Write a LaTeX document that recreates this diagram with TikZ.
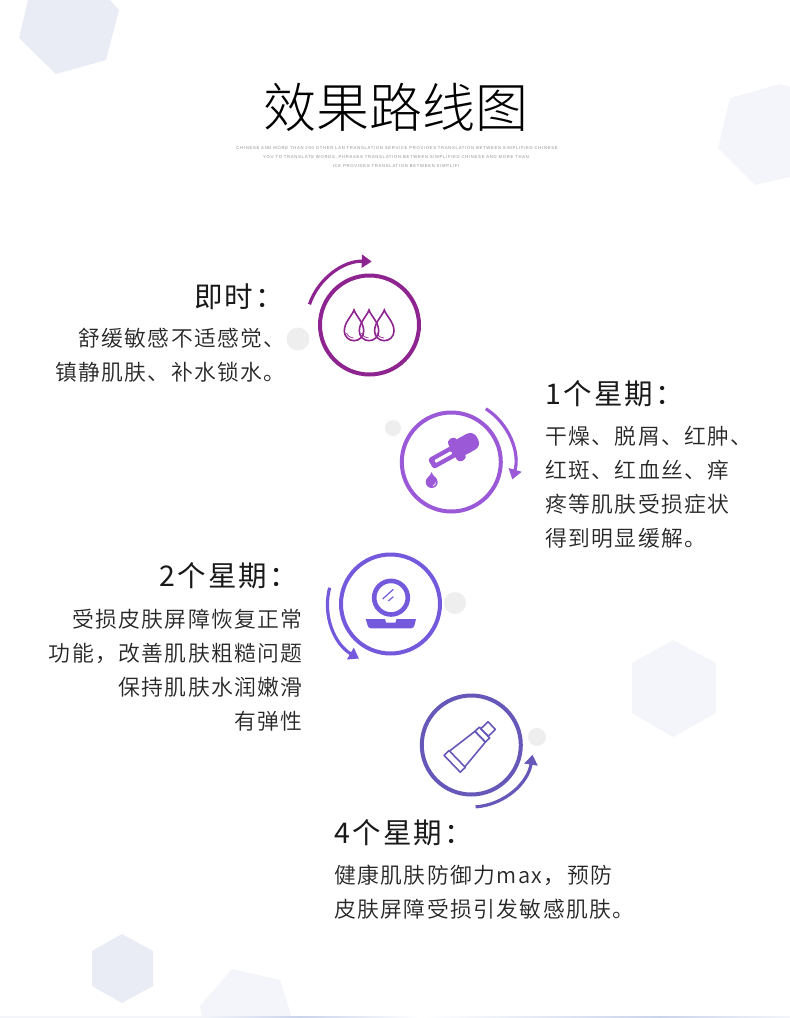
\documentclass[tikz,border=0pt]{standalone}
\usepackage{fontspec}
\usetikzlibrary{arrows.meta}
\newfontfamily\cjktitle{Noto Sans CJK SC Light}
\newfontfamily\cjkhead[LetterSpace=8]{Noto Sans CJK SC}
\newfontfamily\cjkbody[LetterSpace=6.5]{Noto Sans CJK SC DemiLight}
\newfontfamily\latintiny[LetterSpace=17]{Liberation Sans}
\definecolor{ringa}{HTML}{8E2490}
\definecolor{ringb}{HTML}{9B59D8}
\definecolor{ringc}{HTML}{7459DC}
\definecolor{ringd}{HTML}{6558B8}
\definecolor{hexdark}{HTML}{E9EBF5}
\definecolor{hexlight}{HTML}{F4F5FA}
\definecolor{dotgray}{HTML}{EEEEEE}
\definecolor{stripblue}{HTML}{C9D3EB}
\tikzset{
  ringnode/.style={circle, draw, line width=4pt, minimum size=99pt, inner sep=0pt},
  arcarrow/.style={line width=3.2pt, -{Triangle[length=10pt, width=13pt]}},
  graydot/.style={circle, fill=dotgray, inner sep=0pt},
  headtext/.style={inner sep=0pt, text=black!90, font=\fontsize{28.5}{30}\selectfont\cjkhead},
  bodytext/.style={inner sep=0pt, text=black!85, align=left, font=\fontsize{21.8}{34}\selectfont\cjkbody},
  bodyright/.style={bodytext, align=right},
  subtext/.style={inner sep=0pt, text=black!45, font=\fontsize{4.2}{5}\selectfont\latintiny},
  droplet/.pic={
    \draw[ringa, line width=1.6pt] (0,0) .. controls (2,6) and (9.7,12) .. (9.7,21)
      arc[start angle=0, end angle=-180, radius=9.7pt]
      .. controls (-9.7,12) and (-2,6) .. (0,0) -- cycle;
    \draw[ringa, line width=.7pt] (-7.5,23) .. controls (-6,26.5) and (-3,28) .. (-.5,28);
  }
}
\begin{document}
\begin{tikzpicture}[x=1pt, y=-1pt]
  \useasboundingbox (0,0) rectangle (790,1018);
  % background shapes
  \fill[hexdark] (28,0) -- (19,38) -- (56,74) -- (106,60) -- (119,10) -- (110,0) -- cycle;
  \fill[hexlight] (730,98) -- (780,84) -- (790,87) -- (790,177) -- (755,185) -- (718,148) -- cycle;
  \fill[hexlight] (673,640) -- (716,663) -- (716,713) -- (673,737) -- (632,713) -- (632,663) -- cycle;
  \fill[hexdark] (122,934) -- (153,951) -- (153,986) -- (122,1003) -- (92,986) -- (92,951) -- cycle;
  \fill[hexlight] (232,969) -- (280,980) -- (292,1018) -- (202,1018) -- (200,1006) -- cycle;
  % strip along the bottom edge
  \fill[hexlight] (0,1016) rectangle (200,1018);
  \shade[left color=hexlight, right color=stripblue] (200,1016) rectangle (300,1018);
  \shade[left color=stripblue, right color=white] (300,1016) rectangle (420,1018);
  \shade[left color=white, right color=stripblue] (420,1016) rectangle (660,1018);
  \shade[left color=stripblue, right color=hexlight] (660,1016) rectangle (790,1018);
  % title
  \node[inner sep=0pt, text=black, font=\fontsize{53}{58}\selectfont\cjktitle] (title) at (396,107) {效果路线图};
  \node[subtext] (suba) at (397,148) {CHINESE AND MORE THAN 200 OTHER LAN TRANSLATION SERVICE PROVIDES TRANSLATION BETWEEN SIMPLIFIED CHINESE};
  \node[subtext] (subb) at (396,157.5) {YOU TO TRANSLATE WORDS, PHRASES TRANSLATION BETWEEN SIMPLIFIED CHINESE AND MORE THAN};
  \node[subtext] (subc) at (396,166.5) {ICE PROVIDES TRANSLATION BETWEEN SIMPLIFI};
  % dots
  \node[graydot, minimum size=23pt] (dota) at (298,339) {};
  \node[graydot, minimum size=16pt] (dotb) at (393,428) {};
  \node[graydot, minimum size=22pt] (dotc) at (455,603) {};
  \node[graydot, minimum size=18pt] (dotd) at (537,737) {};
  % rings
  \node[ringnode, ringa] (rnga) at (369.5,325) {};
  \node[ringnode, ringb] (rngb) at (451.3,462) {};
  \node[ringnode, ringc] (rngc) at (390.5,604) {};
  \node[ringnode, ringd] (rngd) at (471.3,745) {};
  % arrows round the rings
  \draw[arcarrow, ringa] (rnga.center) ++(161:63.5pt) arc[start angle=161, end angle=88, radius=63.5pt];
  \draw[arcarrow, ringb] (rngb.center) ++(57:63.5pt) arc[start angle=57, end angle=-16, radius=63.5pt];
  \draw[arcarrow, ringc] (rngc.center) ++(165:63pt) arc[start angle=165, end angle=240, radius=63pt];
  \draw[arcarrow, ringd] (rngd.center) ++(-86:62pt) arc[start angle=-86, end angle=-9, radius=62pt];
  % drops
  \pic at (354,310) {droplet};
  \pic at (369,310) {droplet};
  \pic at (384.3,310) {droplet};
  % dropper
  \begin{scope}[shift={(456,450)}, rotate=29]
    \fill[ringb, rounded corners=3pt] (-29,-6) rectangle (2,6);
    \fill[white, rounded corners=1pt] (-24,-1.6) rectangle (-5,1.6);
    \fill[ringb, rounded corners=4pt] (-4,-12.5) rectangle (6,12.5);
    \fill[ringb, rounded corners=7.5pt] (0,-9) rectangle (24.5,9);
  \end{scope}
  \fill[ringb] (431.7,472) .. controls (432,476) and (437.7,477) .. (437.7,482)
    arc[start angle=0, end angle=-180, radius=6pt]
    .. controls (425.7,477) and (431,476) .. (431.7,472) -- cycle;
  \draw[white, line width=.7pt] (435.5,482.5) arc[start angle=0, end angle=-70, radius=3.5pt];
  % mirror
  \node[circle, draw=ringc, line width=4.6pt, minimum size=33.6pt, inner sep=0pt] (mirror) at (391,597.7) {};
  \draw[ringc, line width=1.2pt] (382.7,599) -- (393.3,589.3);
  \draw[ringc, line width=1.2pt] (388.3,601) -- (393.3,596.7);
  \fill[ringc] (365.7,619) -- (385,619) -- (386,622.5) -- (395.5,622.5) -- (396.5,619)
    -- (416,619) -- (414.5,625) .. controls (414,627) and (413,628.3) .. (411,628.3) -- (371,628.3)
    .. controls (369,628.3) and (368,627) .. (367.5,625) -- cycle;
  % tube
  \begin{scope}[shift={(454.3,761.7)}, rotate=44, ringd, line width=1.6pt, line join=round]
    \draw (-3,-11.7) rectangle (4,11.7);
    \draw (4,-11) -- (36,-7.5) -- (36,7.5) -- (4,11);
    \draw (36,-7.5) rectangle (42,7.5);
    \draw (42,-5.3) rectangle (52,5.3);
  \end{scope}
  % step labels
  \node[headtext, anchor=west] (heada) at (194,296.5) {即时：};
  \node[bodyright, anchor=north east] (bodya) at (286,328) {舒缓敏感不适感觉、\\镇静肌肤、补水锁水。};
  \node[headtext, anchor=west] (headb) at (545,393.5) {1个星期：};
  \node[bodytext, anchor=north west] (bodyb) at (545,426) {干燥、脱屑、红肿、\\红斑、红血丝、痒\\疼等肌肤受损症状\\得到明显缓解。};
  \node[headtext, anchor=west] (headc) at (159,575.5) {2个星期：};
  \node[bodyright, anchor=north east] (bodyc) at (303,609) {受损皮肤屏障恢复正常\\功能，改善肌肤粗糙问题\\保持肌肤水润嫩滑\\有弹性};
  \node[headtext, anchor=west] (headd) at (334,832.5) {4个星期：};
  \node[bodytext, anchor=north west] (bodyd) at (334,865) {健康肌肤防御力max，预防\\皮肤屏障受损引发敏感肌肤。};
\end{tikzpicture}
\end{document}
